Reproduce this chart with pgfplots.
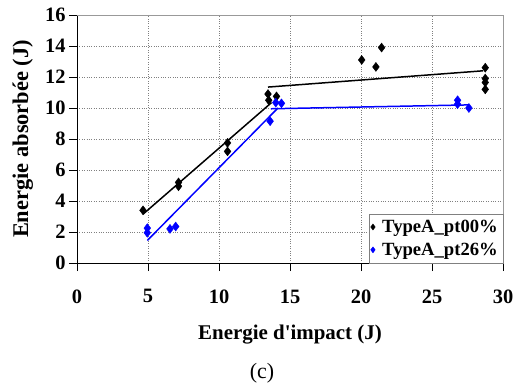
\documentclass[border=0pt]{standalone}
\usepackage{fontspec}
\setmainfont{Liberation Serif}
\usepackage{pgfplots}
\pgfplotsset{compat=1.18}
\begin{document}
\begin{tikzpicture}
\useasboundingbox (-77bp,-127bp) rectangle (437bp,263bp);
\begin{axis}[
 at={(0,0)}, anchor=south west,
 width=426bp, height=248bp, scale only axis,
 xmin=0,xmax=30,ymin=0,ymax=16,
 xtick={0,5,...,30}, ytick={0,2,...,16},
 axis x line*=bottom, axis y line*=left,
 axis line style={black, line width=0.6pt, -},
 tick align=outside, major tick length=8bp,
 tick style={black, line width=0.6pt},
 grid=major, grid style={gray, dotted, line width=0.6pt},
 /pgf/number format/assume math mode=true,
 tick label style={font=\fontsize{20.5}{24}\selectfont\bfseries},
 xticklabel style={yshift=-15bp},
 xlabel={Energie d\textquotesingle impact (J)}, ylabel={Energie absorbée (J)},
 every axis x label/.style={at={(axis description cs:0.5,-0.29)}, anchor=center, font=\fontsize{21}{25}\selectfont\bfseries},
 every axis y label/.style={at={(axis description cs:-0.127,0.5)}, rotate=90, anchor=center, font=\fontsize{22.5}{26}\selectfont\bfseries},
 legend style={at={(1,0)}, anchor=south east, draw=gray, fill=white, font=\fontsize{18.7}{22}\selectfont\bfseries, cells={anchor=west}, inner xsep=2bp, inner ysep=4bp, row sep=5bp,
   nodes={inner xsep=3bp},
   /tikz/every odd column/.append style={column sep=4bp}},
 legend image post style={mark size=3bp},
 clip=false,
]
\draw[gray!80, line width=0.8pt] (rel axis cs:0,1) -- (rel axis cs:1,1) -- (rel axis cs:1,0);
\addplot[only marks, mark=diamond*, mark size=4.5bp, black] coordinates {
 (4.65,3.4) (7.15,5.2) (7.15,4.95) (10.6,7.75) (10.6,7.2) (13.45,10.9) (13.5,10.5) (14.05,10.75)
 (20.05,13.1) (21.05,12.65) (21.45,13.9) (28.75,12.6) (28.75,11.9) (28.75,11.65) (28.75,11.2)};
\addlegendentry{TypeA\_pt00\%}
\addplot[only marks, mark=diamond*, mark size=4.5bp, blue] coordinates {
 (4.95,2.25) (4.95,1.95) (6.55,2.2) (6.95,2.35) (13.6,9.15) (14.0,10.35) (14.4,10.3)
 (26.8,10.5) (26.8,10.25) (27.6,10.0)};
\addlegendentry{TypeA\_pt26\%}
\addplot[black, line width=1.5pt, forget plot] coordinates {(4.65,3.15) (13.7,10.35)};
\addplot[black, line width=1.5pt, forget plot] coordinates {(13.45,11.35) (28.6,12.4)};
\addplot[blue, line width=1.5pt, forget plot] coordinates {(4.95,1.45) (14.15,10.0)};
\addplot[blue, line width=1.5pt, forget plot] coordinates {(13.65,9.95) (27.6,10.2)};
\end{axis}
\node[font=\fontsize{22}{26}\selectfont] at (185bp,-110bp) {(c)};
\end{tikzpicture}
\end{document}
